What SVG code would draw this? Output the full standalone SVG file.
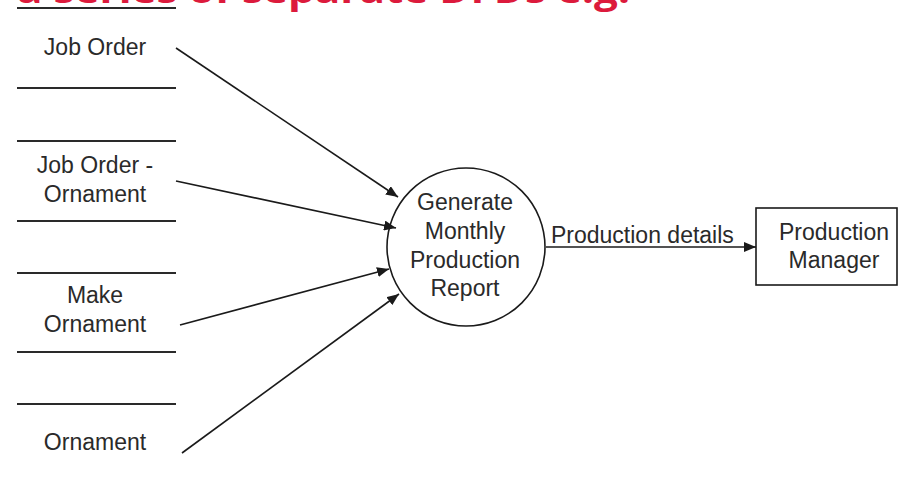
<svg xmlns="http://www.w3.org/2000/svg" width="900" height="481" viewBox="0 0 900 481">
  <style>
    .lbl { font-family: "Liberation Sans", Arial, sans-serif; font-size: 23px; fill: #2a2a2a; text-anchor: middle; }
    .store { stroke: #2a2a2a; stroke-width: 2; }
    .flow { stroke: #1a1a1a; stroke-width: 1.6; fill: none; marker-end: url(#arrow); }
    .title { font-family: "Open Sans", "Liberation Sans", sans-serif; font-weight: 700; font-size: 36px; fill: #dc1a3c; }
  </style>
  <defs>
    <marker id="arrow" viewBox="0 0 12 10" refX="12" refY="5" markerWidth="12" markerHeight="10" markerUnits="userSpaceOnUse" orient="auto">
      <path d="M0,0 L12,5 L0,10 Z" fill="#1a1a1a"/>
    </marker>
  </defs>
  <rect width="900" height="481" fill="#ffffff"/>

  <!-- heading line, mostly above the top edge -->
  <text class="title" x="17" y="3" textLength="613" lengthAdjust="spacingAndGlyphs">a series of separate DFDs e.g.</text>

  <!-- data stores -->
  <g id="store-job-order">
    <line class="store" x1="17" y1="8" x2="176" y2="8"/>
    <line class="store" x1="17" y1="88" x2="176" y2="88"/>
    <text class="lbl" x="95" y="55">Job Order</text>
  </g>
  <g id="store-job-order-ornament">
    <line class="store" x1="17" y1="141" x2="176" y2="141"/>
    <line class="store" x1="17" y1="221" x2="176" y2="221"/>
    <text class="lbl" x="95" y="173">Job Order -</text>
    <text class="lbl" x="95" y="202">Ornament</text>
  </g>
  <g id="store-make-ornament">
    <line class="store" x1="17" y1="273" x2="176" y2="273"/>
    <line class="store" x1="17" y1="352" x2="176" y2="352"/>
    <text class="lbl" x="95" y="303">Make</text>
    <text class="lbl" x="95" y="332">Ornament</text>
  </g>
  <g id="store-ornament">
    <line class="store" x1="17" y1="404" x2="176" y2="404"/>
    <text class="lbl" x="95" y="450">Ornament</text>
  </g>

  <!-- process -->
  <g id="process-report">
    <circle cx="466" cy="247" r="79" fill="#ffffff" stroke="#1a1a1a" stroke-width="1.6"/>
    <text class="lbl" x="465" y="210">Generate</text>
    <text class="lbl" x="465" y="239">Monthly</text>
    <text class="lbl" x="465" y="268">Production</text>
    <text class="lbl" x="465" y="296">Report</text>
  </g>

  <!-- external entity -->
  <g id="entity-manager">
    <rect x="756" y="208" width="141" height="77" fill="#ffffff" stroke="#1a1a1a" stroke-width="1.6"/>
    <text class="lbl" x="834" y="240">Production</text>
    <text class="lbl" x="834" y="268">Manager</text>
  </g>

  <!-- data flows -->
  <g id="flows">
    <line class="flow" x1="176" y1="48" x2="398" y2="197"/>
    <line class="flow" x1="176" y1="181" x2="396" y2="228"/>
    <line class="flow" x1="180" y1="325" x2="389" y2="269"/>
    <line class="flow" x1="182" y1="453" x2="399" y2="294"/>
    <line class="flow" x1="546" y1="247" x2="756" y2="247"/>
    <text class="lbl" x="551" y="243" style="text-anchor:start">Production details</text>
  </g>
</svg>
